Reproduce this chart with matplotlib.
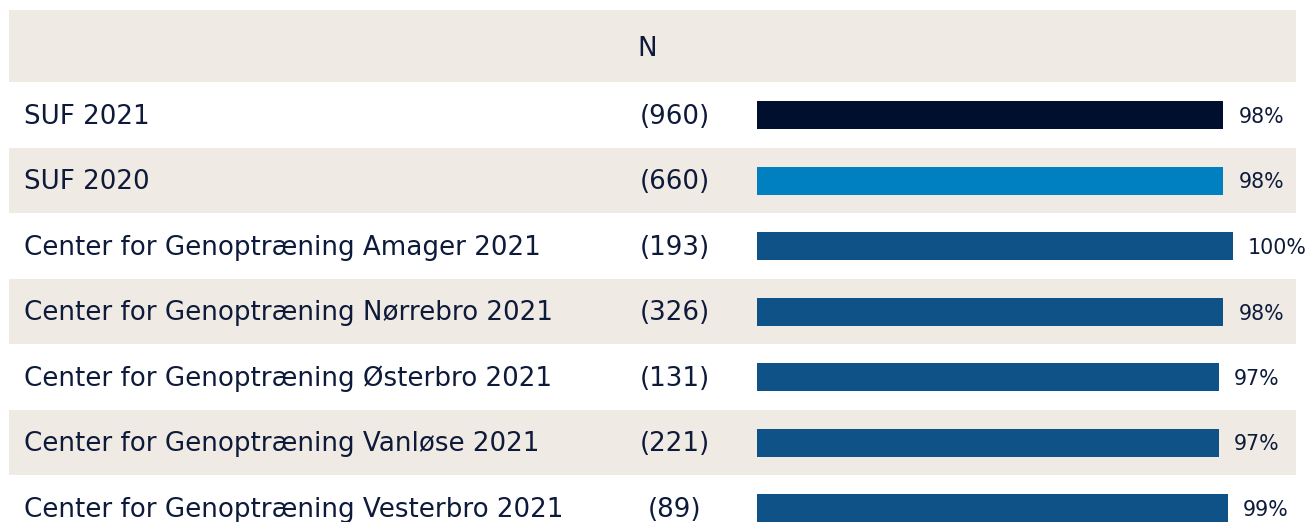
import matplotlib
matplotlib.use("Agg")
import matplotlib.pyplot as plt
from matplotlib.transforms import blended_transform_factory

categories = [
    "SUF 2021",
    "SUF 2020",
    "Center for Genoptræning Amager 2021",
    "Center for Genoptræning Nørrebro 2021",
    "Center for Genoptræning Østerbro 2021",
    "Center for Genoptræning Vanløse 2021",
    "Center for Genoptræning Vesterbro 2021",
]
n_values = [960, 660, 193, 326, 131, 221, 89]
percent_values = [98, 98, 100, 98, 97, 97, 99]
bar_colors = ["#000F2E", "#0080C1", "#0F5287", "#0F5287", "#0F5287", "#0F5287", "#0F5287"]
header_label = "N"

BEIGE = "#EFEAE3"
TEXT = "#0E1A3A"
FONT = "DejaVu Sans"

W, H = 1312, 522
fig = plt.figure(figsize=(W / 100, H / 100), dpi=100)
ax = fig.add_axes([0, 0, 1, 1])

px_per_unit = 4.76
x0_px = 757
ax.set_xlim(-x0_px / px_per_unit, (W - x0_px) / px_per_unit)
row_px = 65.5
y0_px = 115
ax.set_ylim((H - y0_px) / row_px, -y0_px / row_px)
ax.axis("off")

band_xmin = 9 / W
band_xmax = 1296 / W
# header band
ax.axhspan((10 - y0_px) / row_px, (82 - y0_px) / row_px, xmin=band_xmin, xmax=band_xmax,
           color=BEIGE, lw=0, zorder=0)
for i in range(len(categories)):
    if i % 2 == 1:
        ax.axhspan(i - 0.5, i + 0.5, xmin=band_xmin, xmax=band_xmax, color=BEIGE, lw=0, zorder=0)

ypos = list(range(len(categories)))
ax.barh(ypos, percent_values, height=28 / row_px, color=bar_colors, zorder=2)

tr = blended_transform_factory(ax.transAxes, ax.transData)
for i, (cat, n, p) in enumerate(zip(categories, n_values, percent_values)):
    ax.text(24 / W, i - 0.02, cat, transform=tr, ha="left", va="center_baseline",
            fontsize=18.8, color=TEXT, family=FONT)
    ax.text(675 / W, i - 0.02, f"({n})", transform=tr, ha="center", va="center_baseline",
            fontsize=18.8, color=TEXT, family=FONT)
    ax.text(p + 15 / px_per_unit, i, f"{p}%", ha="left", va="center_baseline",
            fontsize=14.8, color=TEXT, family=FONT, zorder=3)

ax.text(637 / W, (46 - y0_px) / row_px, header_label, transform=tr, ha="left",
        va="center_baseline", fontsize=18.8, color=TEXT, family=FONT)

fig.savefig("out.png", dpi=100, facecolor="white")
